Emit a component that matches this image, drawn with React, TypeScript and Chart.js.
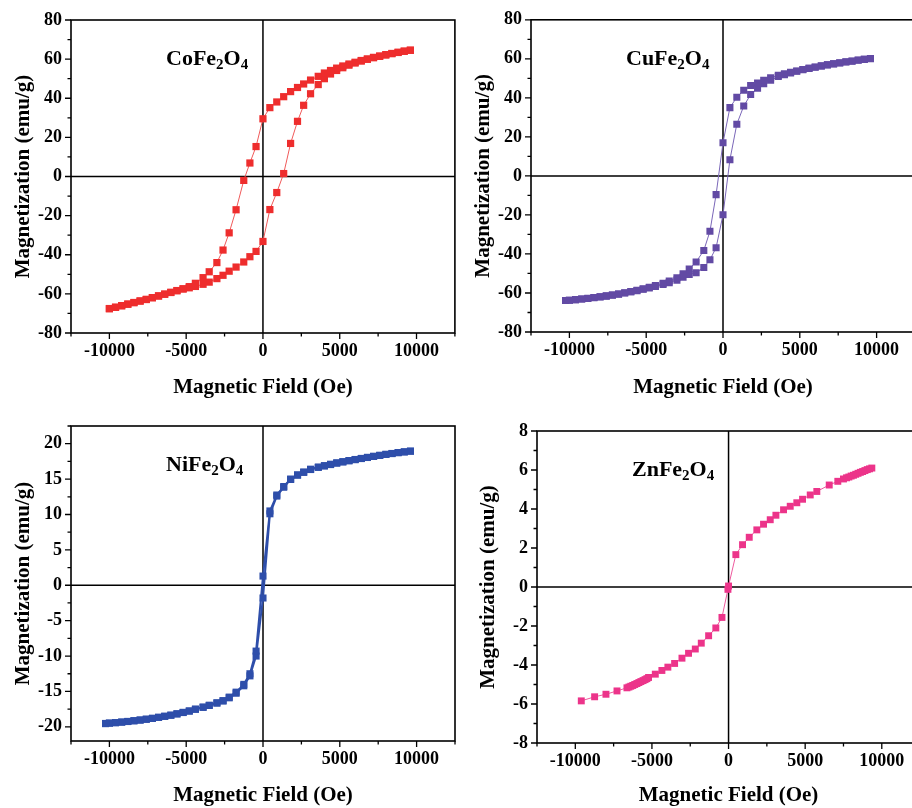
import React, { useEffect, useRef } from "react";
import { Chart, registerables } from "chart.js";

Chart.register(...registerables);

const SERIF = "'Liberation Serif', 'Times New Roman', Times, serif";

// ---- tick labels ----
const fieldTicks = [-10000, -5000, 0, 5000, 10000];
const coTicks = [-80, -60, -40, -20, 0, 20, 40, 60, 80];
const cuTicks = [-80, -60, -40, -20, 0, 20, 40, 60, 80];
const niTicks = [-20, -15, -10, -5, 0, 5, 10, 15, 20];
const znTicks = [-8, -6, -4, -2, 0, 2, 4, 6, 8];

const xTitle = "Magnetic Field (Oe)";
const yTitle = "Magnetization (emu/g)";

// sample names: even index = normal text, odd index = subscript
const coName = ["CoFe", "2", "O", "4"];
const cuName = ["CuFe", "2", "O", "4"];
const niName = ["NiFe", "2", "O", "4"];
const znName = ["ZnFe", "2", "O", "4"];

// ---- CoFe2O4 ----
const coFieldDown = [9600, 9200, 8800, 8400, 8000, 7600, 7200, 6800, 6400, 6000, 5600, 5200, 4800, 4400, 4000, 3600, 3100, 2650, 2250, 1800, 1350, 900, 450, 0, -450, -850, -1250, -1750, -2200, -2600, -3000, -3500, -3900, -4400, -4800, -5200, -5600, -6000, -6400, -6800, -7200, -7600, -8000, -8400, -8800, -9200, -9600, -10000];
const coMagDown = [64.6, 64.1, 63.5, 62.9, 62.3, 61.6, 60.9, 60.1, 59.3, 58.4, 57.5, 56.5, 55.4, 54.2, 52.9, 51.2, 49.3, 47.3, 45.5, 43.4, 40.8, 38.1, 35.2, 29.5, 15.3, 6.9, -2.0, -17.0, -28.8, -37.6, -44.0, -48.7, -51.7, -54.6, -56.3, -57.4, -58.3, -59.2, -60.1, -61.0, -61.9, -62.8, -63.6, -64.4, -65.2, -66.0, -66.8, -67.5];
const coFieldUp = [-10000, -9600, -9200, -8800, -8400, -8000, -7600, -7200, -6800, -6400, -6000, -5600, -5200, -4800, -4400, -3900, -3500, -3000, -2600, -2200, -1750, -1250, -850, -450, 0, 450, 900, 1350, 1800, 2250, 2650, 3100, 3600, 4000, 4400, 4800, 5200, 5600, 6000, 6400, 6800, 7200, 7600, 8000, 8400, 8800, 9200, 9600];
const coMagUp = [-67.6, -66.9, -66.1, -65.3, -64.5, -63.7, -62.9, -62.0, -61.1, -60.2, -59.3, -58.4, -57.5, -56.9, -56.2, -55.1, -54.0, -52.2, -50.5, -48.4, -46.3, -43.7, -41.0, -38.3, -33.2, -16.9, -8.2, 1.5, 16.9, 28.2, 36.4, 42.3, 47.0, 50.0, 52.4, 54.2, 55.6, 56.9, 58.0, 59.0, 59.9, 60.7, 61.4, 62.1, 62.8, 63.4, 64.0, 64.5];

// ---- CuFe2O4 ----
const cuFieldDown = [9600, 9200, 8800, 8400, 8000, 7600, 7200, 6800, 6400, 6000, 5600, 5200, 4800, 4400, 4000, 3600, 3100, 2650, 2250, 1800, 1350, 900, 450, 0, -450, -850, -1250, -1750, -2200, -2600, -3000, -3500, -3900, -4400, -4800, -5200, -5600, -6000, -6400, -6800, -7200, -7600, -8000, -8400, -8800, -9200, -9600, -10000, -10250];
const cuMagDown = [60.2, 59.8, 59.4, 58.9, 58.5, 58.0, 57.5, 57.0, 56.4, 55.8, 55.2, 54.5, 53.8, 53.1, 52.3, 51.6, 50.3, 49.0, 47.6, 46.3, 43.9, 40.3, 35.0, 17.0, -9.6, -28.4, -38.2, -44.1, -47.7, -50.2, -52.2, -53.9, -55.0, -56.2, -57.1, -57.9, -58.6, -59.3, -59.9, -60.5, -61.0, -61.5, -61.9, -62.3, -62.7, -63.1, -63.4, -63.7, -63.9];
const cuFieldUp = [-10250, -10000, -9600, -9200, -8800, -8400, -8000, -7600, -7200, -6800, -6400, -6000, -5600, -5200, -4800, -4400, -3900, -3500, -3000, -2600, -2200, -1750, -1250, -850, -450, 0, 450, 900, 1350, 1800, 2250, 2650, 3100, 3600, 4000, 4400, 4800, 5200, 5600, 6000, 6400, 6800, 7200, 7600, 8000, 8400, 8800, 9200, 9600];
const cuMagUp = [-63.9, -63.7, -63.4, -63.1, -62.8, -62.4, -62.0, -61.6, -61.1, -60.6, -60.0, -59.4, -58.8, -58.1, -57.4, -56.6, -55.6, -54.7, -53.4, -51.9, -50.5, -49.6, -46.9, -43.0, -36.8, -19.9, 8.3, 26.5, 35.8, 41.7, 44.9, 47.3, 49.0, 50.9, 51.9, 52.8, 53.6, 54.4, 55.1, 55.7, 56.3, 56.9, 57.4, 57.9, 58.4, 58.8, 59.3, 59.7, 60.1];

// ---- NiFe2O4 ----
const niFieldDown = [9600, 9200, 8800, 8400, 8000, 7600, 7200, 6800, 6400, 6000, 5600, 5200, 4800, 4400, 4000, 3600, 3100, 2650, 2250, 1800, 1350, 900, 450, 0, -450, -850, -1250, -1750, -2200, -2600, -3000, -3500, -3900, -4400, -4800, -5200, -5600, -6000, -6400, -6800, -7200, -7600, -8000, -8400, -8800, -9200, -9600, -10000, -10250];
const niMagDown = [18.95, 18.85, 18.75, 18.62, 18.5, 18.36, 18.22, 18.07, 17.92, 17.77, 17.62, 17.46, 17.3, 17.1, 16.9, 16.7, 16.4, 16.0, 15.6, 15.0, 13.95, 12.75, 10.5, 1.3, -9.3, -12.5, -14.0, -15.1, -15.8, -16.3, -16.6, -16.95, -17.2, -17.5, -17.75, -17.95, -18.15, -18.35, -18.5, -18.65, -18.8, -18.92, -19.03, -19.13, -19.23, -19.32, -19.4, -19.47, -19.52];
const niFieldUp = [-10250, -10000, -9600, -9200, -8800, -8400, -8000, -7600, -7200, -6800, -6400, -6000, -5600, -5200, -4800, -4400, -3900, -3500, -3000, -2600, -2200, -1750, -1250, -850, -450, 0, 450, 900, 1350, 1800, 2250, 2650, 3100, 3600, 4000, 4400, 4800, 5200, 5600, 6000, 6400, 6800, 7200, 7600, 8000, 8400, 8800, 9200, 9600];
const niMagUp = [-19.55, -19.48, -19.42, -19.34, -19.25, -19.15, -19.05, -18.93, -18.8, -18.66, -18.52, -18.36, -18.18, -17.98, -17.78, -17.52, -17.25, -16.98, -16.65, -16.35, -15.9, -15.25, -14.2, -12.8, -10.0, -1.8, 10.1, 12.6, 13.85, 14.95, 15.55, 15.95, 16.35, 16.65, 16.85, 17.05, 17.25, 17.42, 17.58, 17.74, 17.9, 18.05, 18.2, 18.34, 18.48, 18.6, 18.73, 18.84, 18.94];

// ---- ZnFe2O4 ----
const znField = [-9610, -8740, -8000, -7280, -6630, -6500, -6380, -6250, -6120, -5980, -5850, -5720, -5580, -5450, -5330, -5220, -4780, -4350, -3960, -3520, -3040, -2610, -2170, -1780, -1300, -830, -430, -40, 0, 476, 913, 1350, 1846, 2283, 2720, 3090, 3590, 4025, 4455, 4830, 5330, 5760, 6570, 7130, 7500, 7700, 7850, 8000, 8150, 8300, 8450, 8600, 8750, 8900, 9050, 9200, 9350];
const znMag = [-5.84, -5.63, -5.5, -5.33, -5.17, -5.13, -5.09, -5.05, -5.0, -4.95, -4.9, -4.85, -4.8, -4.75, -4.7, -4.64, -4.47, -4.28, -4.11, -3.92, -3.65, -3.4, -3.18, -2.88, -2.5, -2.1, -1.56, -0.12, 0.05, 1.66, 2.17, 2.55, 2.93, 3.22, 3.45, 3.68, 3.96, 4.14, 4.32, 4.5, 4.72, 4.9, 5.23, 5.42, 5.54, 5.6, 5.64, 5.69, 5.73, 5.78, 5.83, 5.88, 5.92, 5.97, 6.02, 6.06, 6.1];

type Series = { x: number[]; y: number[] };
type Spec = {
  left: number; top: number; width: number; height: number;
  yAxisW: number; xAxisH: number; padTop: number; padRight: number;
  yMin: number; yMax: number; yTicks: number[]; yMinor: number; yTitlePad: number;
  name: string[]; color: string; lineColor: string; lineWidth: number; pointRadius: number;
  series: Series[];
};

const decorPlugin = {
  id: "decor",
  beforeDatasetsDraw(chart: any) {
    const { ctx, chartArea } = chart;
    const { left, right, top, bottom } = chartArea;
    const x0 = chart.scales.x.getPixelForValue(0);
    const y0 = chart.scales.y.getPixelForValue(0);
    ctx.save();
    ctx.strokeStyle = "#000";
    ctx.lineWidth = 1.5;
    ctx.beginPath();
    ctx.moveTo(x0, top);
    ctx.lineTo(x0, bottom);
    ctx.moveTo(left, y0);
    ctx.lineTo(right, y0);
    ctx.stroke();
    ctx.restore();
  },
  afterDraw(chart: any, _args: any, opts: any) {
    const { ctx, chartArea } = chart;
    const { left, right, top, bottom } = chartArea;
    const xs = chart.scales.x;
    const ys = chart.scales.y;
    ctx.save();
    ctx.strokeStyle = "#000";
    ctx.lineWidth = 1.6;
    ctx.strokeRect(left, top, right - left, bottom - top);
    ctx.lineWidth = 1.3;
    ctx.beginPath();
    // x ticks (outward, below)
    for (let v = -12500; v <= 12500; v += 2500) {
      const px = xs.getPixelForValue(v);
      const major = v % 5000 === 0;
      ctx.moveTo(px, bottom);
      ctx.lineTo(px, bottom + (major ? 6 : 3.5));
    }
    // y ticks (outward, left)
    const step = opts.yMinor;
    const start = Math.ceil((opts.yMin - 1e-9) / step) * step;
    for (let v = start; v <= opts.yMax + 1e-9; v += step) {
      const py = ys.getPixelForValue(v);
      const major = opts.yTicks.some((t: number) => Math.abs(t - v) < 1e-6);
      ctx.moveTo(left, py);
      ctx.lineTo(left - (major ? 6 : 3.5), py);
    }
    ctx.stroke();
    // sample label with subscripts
    ctx.fillStyle = "#000";
    ctx.textAlign = "left";
    ctx.textBaseline = "alphabetic";
    let x = left + 95;
    const y = top + 45;
    (opts.name as string[]).forEach((part, i) => {
      const sub = i % 2 === 1;
      ctx.font = `bold ${sub ? 15 : 22}px ${SERIF}`;
      ctx.fillText(part, x, sub ? y + 4 : y);
      x += ctx.measureText(part).width;
    });
    ctx.restore();
  },
};

function Panel({ spec }: { spec: Spec }) {
  const ref = useRef<HTMLCanvasElement>(null);
  useEffect(() => {
    if (!ref.current) return;
    const tickFont = { family: SERIF, size: 18, weight: "bold" as const };
    const titleFont = { family: SERIF, size: 21, weight: "bold" as const };
    const chart = new Chart(ref.current, {
      type: "scatter",
      data: {
        datasets: spec.series.map((s) => ({
          data: s.x.map((xv, i) => ({ x: xv, y: s.y[i] })),
          showLine: true,
          borderColor: spec.lineColor,
          borderWidth: spec.lineWidth,
          backgroundColor: spec.color,
          pointBackgroundColor: spec.color,
          pointBorderColor: spec.color,
          pointBorderWidth: 0,
          pointStyle: "rect",
          pointRadius: spec.pointRadius,
          tension: 0,
        })),
      },
      options: {
        animation: false,
        responsive: false,
        layout: { padding: { left: 0, right: spec.padRight, top: spec.padTop, bottom: 0 } },
        plugins: {
          legend: { display: false },
          tooltip: { enabled: false },
          decor: { yMin: spec.yMin, yMax: spec.yMax, yTicks: spec.yTicks, yMinor: spec.yMinor, name: spec.name },
        } as any,
        scales: {
          x: {
            type: "linear",
            min: -12500,
            max: 12500,
            afterBuildTicks: (s: any) => {
              s.ticks = fieldTicks.map((v) => ({ value: v }));
            },
            afterFit: (s: any) => {
              s.height = spec.xAxisH;
            },
            ticks: {
              autoSkip: false,
              maxRotation: 0,
              padding: 8,
              color: "#000",
              font: tickFont,
              callback: (v: any) => String(v),
            },
            grid: { display: false, drawTicks: false },
            border: { display: false },
            title: { display: true, text: xTitle, color: "#000", font: titleFont, padding: { top: 0, bottom: 0 } },
          },
          y: {
            type: "linear",
            min: spec.yMin,
            max: spec.yMax,
            afterBuildTicks: (s: any) => {
              s.ticks = spec.yTicks.map((v) => ({ value: v }));
            },
            afterFit: (s: any) => {
              s.width = spec.yAxisW;
            },
            ticks: {
              autoSkip: false,
              padding: 9,
              color: "#000",
              font: tickFont,
              callback: (v: any) => String(v),
            },
            grid: { display: false, drawTicks: false },
            border: { display: false },
            title: { display: true, text: yTitle, color: "#000", font: titleFont, padding: { top: spec.yTitlePad, bottom: 0 } },
          },
        },
      },
      plugins: [decorPlugin as any],
    });
    return () => chart.destroy();
  }, [spec]);
  return (
    <canvas
      ref={ref}
      width={spec.width}
      height={spec.height}
      style={{ position: "absolute", left: spec.left, top: spec.top, width: spec.width, height: spec.height }}
    />
  );
}

const specs: Spec[] = [
  {
    left: 0, top: 0, width: 460, height: 400, yAxisW: 71, xAxisH: 67, padTop: 20, padRight: 3,
    yMin: -80, yMax: 80, yTicks: coTicks, yMinor: 10, yTitlePad: 10.5,
    name: coName, color: "#EE2D2D", lineColor: "#F05A5A", lineWidth: 1, pointRadius: 5.1,
    series: [{ x: coFieldDown, y: coMagDown }, { x: coFieldUp, y: coMagUp }],
  },
  {
    left: 460, top: 0, width: 460, height: 400, yAxisW: 71, xAxisH: 68, padTop: 19, padRight: 3,
    yMin: -80, yMax: 80, yTicks: cuTicks, yMinor: 10, yTitlePad: 10.5,
    name: cuName, color: "#624AA4", lineColor: "#7A66B8", lineWidth: 1, pointRadius: 5.0,
    series: [{ x: cuFieldDown, y: cuMagDown }, { x: cuFieldUp, y: cuMagUp }],
  },
  {
    left: 0, top: 400, width: 460, height: 408, yAxisW: 71, xAxisH: 67, padTop: 26, padRight: 3,
    yMin: -22, yMax: 22.5, yTicks: niTicks, yMinor: 2.5, yTitlePad: 10.5,
    name: niName, color: "#2E4EAA", lineColor: "#2E4EAA", lineWidth: 2, pointRadius: 5.0,
    series: [{ x: niFieldDown, y: niMagDown }, { x: niFieldUp, y: niMagUp }],
  },
  {
    left: 460, top: 400, width: 465, height: 408, yAxisW: 77, xAxisH: 65, padTop: 31, padRight: 3,
    yMin: -8, yMax: 8, yTicks: znTicks, yMinor: 1, yTitlePad: 15.5,
    name: znName, color: "#EC348A", lineColor: "#EE5A9E", lineWidth: 1, pointRadius: 4.9,
    series: [{ x: znField, y: znMag }],
  },
];

export default function App() {
  return (
    <div
      style={{
        position: "fixed",
        left: 0,
        top: 0,
        width: 912,
        height: 808,
        overflow: "hidden",
        background: "#fff",
      }}
    >
      {specs.map((s, i) => (
        <Panel key={i} spec={s} />
      ))}
    </div>
  );
}
